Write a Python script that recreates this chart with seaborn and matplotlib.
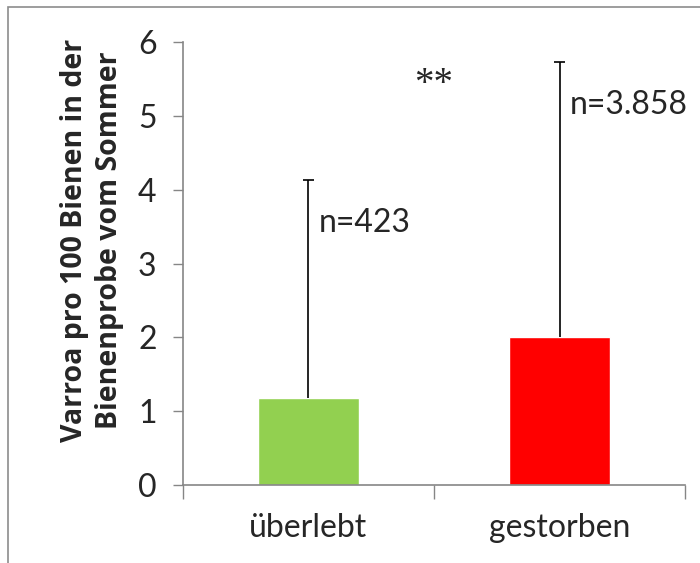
"""Varroa pro 100 Bienen: überlebt vs. gestorben, Balken mit Fehlerbalken."""

import matplotlib.pyplot as plt
import numpy as np
import pandas as pd
import seaborn as sns
from matplotlib.patches import Rectangle

categories = ["überlebt", "gestorben"]
means = [1.18, 2.0]
upper_err = [2.95, 3.73]
n_labels = ["n=423", "n=3.858"]
bar_colors = ["#92D050", "#FF0000"]
y_ticks = [0, 1, 2, 3, 4, 5, 6]

sns.set_style("white")
plt.rcParams["font.family"] = ["Lato", "DejaVu Sans"]

AXIS_GREY = "#868686"

df = pd.DataFrame({"status": categories, "varroa": means})

fig = plt.figure(figsize=(7.0, 5.63), dpi=100)
ax = fig.add_axes([0.2614, 0.1385, 0.7172, 0.7869])

sns.barplot(
    data=df,
    x="status",
    y="varroa",
    hue="status",
    palette=bar_colors,
    width=0.4,
    saturation=1,
    legend=False,
    ax=ax,
    zorder=2,
)

# Only upper error bars, drawn from the bar top upward
x_pos = np.arange(len(categories))
tops = np.asarray(means) + np.asarray(upper_err)
ax.vlines(x_pos, means, tops, color="black", linewidth=1.2, zorder=3)
ax.hlines(tops, x_pos - 0.02, x_pos + 0.02, color="black", linewidth=1.2, zorder=3)

# n labels beside the error bars
for x, top, label in zip(x_pos, tops, n_labels):
    ax.text(x + 0.04, top - 0.38, label, fontsize=23, ha="left", va="top")

ax.text(0.5, 5.42, "**", fontsize=28, ha="center", va="center",
        family=["Liberation Serif", "DejaVu Serif"])

ax.set_xlim(-0.5, 1.5)
ax.set_ylim(0, 6)
ax.set_yticks(y_ticks)
ax.set_xticks(x_pos)
ax.set_xticklabels(categories)
ax.set_xticks([-0.5, 0.5, 1.5], minor=True)

ax.tick_params(axis="y", which="major", direction="out", length=7, width=1,
               color=AXIS_GREY, labelsize=23, pad=12, left=True)
ax.tick_params(axis="x", which="major", length=0, labelsize=23, pad=20)
ax.tick_params(axis="x", which="minor", direction="out", length=10, width=1,
               color=AXIS_GREY, bottom=True)

ax.set_xlabel("")
ax.set_ylabel("Varroa pro 100 Bienen in der\nBienenprobe vom Sommer",
              fontsize=20.5, fontweight="bold", linespacing=1.25,
              family=["Open Sans", "DejaVu Sans"])
ax.yaxis.set_label_coords(-0.118, 0.553)

sns.despine(ax=ax)
for side in ["left", "bottom"]:
    ax.spines[side].set_color(AXIS_GREY)
    ax.spines[side].set_linewidth(1.2)

# Outer chart frame (cropped on the right and bottom)
fig.patches.append(Rectangle((8 / 700, -0.1), 1.2, 1.1 - 7 / 563,
                             transform=fig.transFigure, fill=False,
                             edgecolor="#8C8C8C", linewidth=1.2))

fig.savefig("out.png", dpi=100)
